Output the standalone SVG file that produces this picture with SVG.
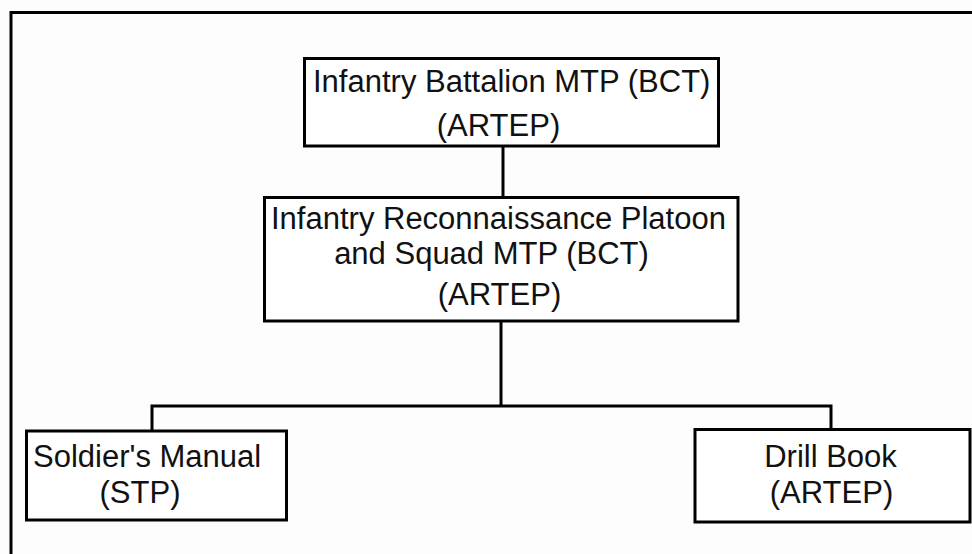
<svg xmlns="http://www.w3.org/2000/svg" width="972" height="554" viewBox="0 0 972 554">
<style>
.box{fill:#fff;stroke:#000;stroke-width:3}
.ln{fill:none;stroke:#000;stroke-width:3}
text{font-family:"Liberation Sans",Arial,sans-serif;font-size:31px;fill:#111}
.m{text-anchor:middle}
</style>
<rect x="0" y="0" width="972" height="554" fill="#fdfdfd"/>
<path class="ln" d="M11,554 V12.5 H972"/>
<g id="connectors">
<path class="ln" d="M503,146 V197.5"/>
<path class="ln" d="M501,321 V406"/>
<path class="ln" d="M152,431 V406 H831 V429.5"/>
</g>
<g id="battalion">
<rect class="box" x="304.5" y="58.5" width="414" height="87.5"/>
<text x="313" y="92">Infantry  Battalion MTP (BCT)</text>
<text class="m" x="498.5" y="136">(ARTEP)</text>
</g>
<g id="recon">
<rect class="box" x="264.5" y="197.5" width="473.5" height="123.5"/>
<text x="271" y="229">Infantry  Reconnaissance Platoon</text>
<text class="m" x="491.5" y="264">and Squad MTP (BCT)</text>
<text class="m" x="499.5" y="305">(ARTEP)</text>
</g>
<g id="soldiers-manual">
<rect class="box" x="26.5" y="431" width="260" height="89"/>
<text x="33" y="467">Soldier's Manual</text>
<text class="m" x="140" y="503">(STP)</text>
</g>
<g id="drill-book">
<rect class="box" x="695" y="429.5" width="275" height="92.5"/>
<text class="m" x="830.5" y="467">Drill Book</text>
<text class="m" x="831.5" y="503">(ARTEP)</text>
</g>
</svg>
